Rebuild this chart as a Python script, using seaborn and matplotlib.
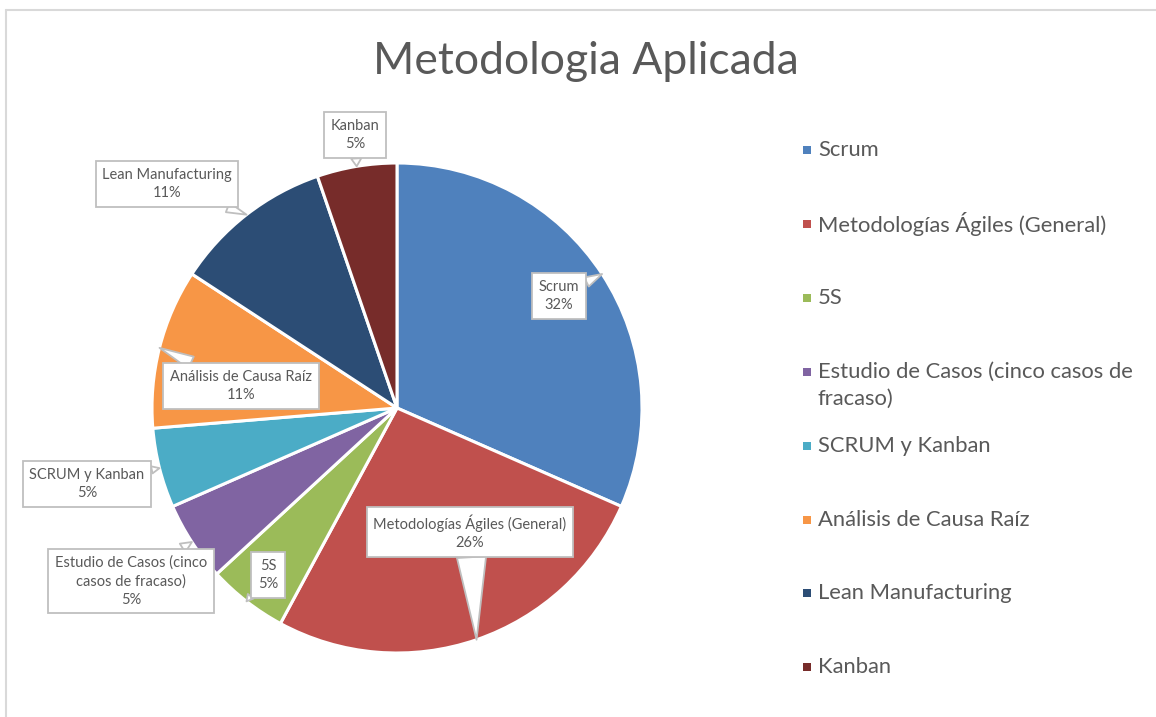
import textwrap
import numpy as np
import seaborn as sns
import matplotlib.pyplot as plt
from matplotlib.lines import Line2D

# chart data: number of studies per methodology
categories = ['Scrum', 'Metodologías Ágiles (General)', '5S',
              'Estudio de Casos (cinco casos de fracaso)', 'SCRUM y Kanban',
              'Análisis de Causa Raíz', 'Lean Manufacturing', 'Kanban']
counts = [6, 5, 1, 1, 1, 2, 2, 1]
title = 'Metodologia Aplicada'

colors = ['#4F81BD', '#C0504D', '#9BBB59', '#8064A2',
          '#4BACC6', '#F79646', '#2C4D75', '#772C2A']

# layout (pixel coords, top-down)
W, H = 1156, 717
pie_center = (397, 408)
pie_radius = 245
box_pos = [(559, 296), (470, 532), (268, 575), (131, 581),
           (87, 484), (241, 386), (167, 184), (355, 135)]
tail_w = [0.7, 2.0, 0.5, 0.7, 0.5, 0.9, 0.7, 0.7]
legend_x, legend_y0, legend_step = 818, 150, 73.9

sns.set_theme(style='white')
plt.rcParams['font.family'] = ['Lato', 'DejaVu Sans']
text_color = '#595959'

fig = plt.figure(figsize=(W / 100, H / 100), dpi=100)
ax = fig.add_axes([0, 0, 1, 1])

wedges, _ = ax.pie(counts, colors=colors, startangle=90, counterclock=False,
                   center=(pie_center[0], H - pie_center[1]), radius=pie_radius,
                   wedgeprops=dict(edgecolor='white', linewidth=2.2))
# pie() sets its own limits, so put the pixel frame back afterwards
ax.set_xlim(0, W)
ax.set_ylim(0, H)
ax.set_aspect('equal')
ax.axis('off')

total = sum(counts)
for w, name, n, (bx, by), tw in zip(wedges, categories, counts, box_pos, tail_w):
    mid = np.deg2rad((w.theta1 + w.theta2) / 2)
    tip = (w.center[0] + w.r * np.cos(mid), w.center[1] + w.r * np.sin(mid))
    label = textwrap.fill(name, 24) if len(name) > 32 else name
    pct = f'{n / total * 100:.0f}%'
    ax.annotate(f'{label}\n{pct}', xy=tip, xytext=(bx, H - by),
                ha='center', va='center', fontsize=10.5, color=text_color,
                linespacing=1.4,
                bbox=dict(boxstyle='square,pad=0.45', fc='white', ec='#BFBFBF', lw=1.3),
                arrowprops=dict(arrowstyle=f'wedge,tail_width={tw}', fc='white',
                                ec='#BFBFBF', lw=1.3, shrinkA=0, shrinkB=0))

# legend drawn by hand so every entry keeps the same row spacing
for i, (name, c) in enumerate(zip(categories, colors)):
    y = legend_y0 + i * legend_step
    ax.scatter([legend_x - 11], [H - y], marker='s', s=36, color=c, linewidths=0)
    for j, line in enumerate(textwrap.fill(name, 32).split('\n')):
        ax.text(legend_x, H - (y + j * 27), line, ha='left', va='center',
                fontsize=15.8, color=text_color)

fig.text(586 / W, 1 - 62 / H, title, ha='center', va='center', fontsize=32,
         color=text_color)

# chart frame
fig.add_artist(Line2D([6 / W, 6 / W], [0, 1 - 10 / H], color='#D9D9D9', lw=1.5))
fig.add_artist(Line2D([6 / W, 1], [1 - 10 / H, 1 - 10 / H], color='#D9D9D9', lw=1.5))

fig.savefig('out.png', dpi=100, facecolor='white')
